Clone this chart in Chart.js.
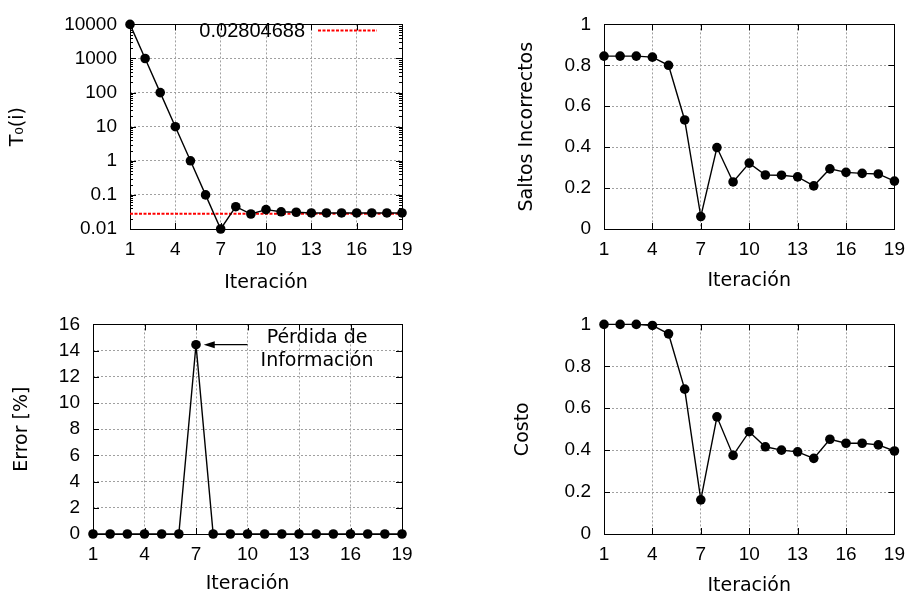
<!DOCTYPE html>
<html>
<head>
<meta charset="utf-8">
<script src="https://cdn.jsdelivr.net/npm/chart.js@4.4.1/dist/chart.umd.min.js"></script>
<style>
    html, body { margin: 0; padding: 0; background: #fff; overflow: hidden; }
    #wrap { position: relative; width: 914px; height: 599px; }
    #wrap canvas { position: absolute; }
</style>
</head>
<body>
<div id="wrap">
    <canvas id="tempChart" width="457" height="300" style="left:0;top:0"></canvas>
    <canvas id="saltosChart" width="457" height="300" style="left:457px;top:0"></canvas>
    <canvas id="errorChart" width="457" height="299" style="left:0;top:300px"></canvas>
    <canvas id="costoChart" width="457" height="299" style="left:457px;top:300px"></canvas>
</div>
<script>
// values
const iteraciones = [1, 2, 3, 4, 5, 6, 7, 8, 9, 10, 11, 12, 13, 14, 15, 16, 17, 18, 19];
const temperatura = [10000, 1000, 100, 10, 1, 0.1, 0.01, 0.045, 0.0275, 0.037, 0.032, 0.031, 0.0295, 0.0295, 0.0295, 0.0295, 0.0295, 0.0295, 0.0295];
const umbral = 0.02804688;
const saltos = [0.845, 0.845, 0.845, 0.84, 0.80, 0.533, 0.061, 0.398, 0.23, 0.322, 0.264, 0.263, 0.255, 0.211, 0.294, 0.277, 0.272, 0.269, 0.234];
const errorPct = [0, 0, 0, 0, 0, 0, 14.45, 0, 0, 0, 0, 0, 0, 0, 0, 0, 0, 0, 0];
const costo = [1, 1, 1, 0.995, 0.955, 0.691, 0.163, 0.559, 0.375, 0.488, 0.416, 0.40, 0.392, 0.361, 0.452, 0.433, 0.433, 0.425, 0.396];

const xTicks = [1, 4, 7, 10, 13, 16, 19];
const logTicks = [0.01, 0.1, 1, 10, 100, 1000, 10000];
const unitTicks = [0, 0.2, 0.4, 0.6, 0.8, 1];
const errorTicks = [0, 2, 4, 6, 8, 10, 12, 14, 16];

const tickFont = { family: "'Liberation Sans', Arial, sans-serif", size: 19 };
const titleFont = { family: "'DejaVu Sans', sans-serif", size: 19 };

const pts = (ys) => iteraciones.map((x, i) => ({ x: x, y: ys[i] }));

// border, inward tick marks on every side, like gnuplot
const gnuplotFrame = {
    id: 'gnuplotFrame',
    beforeDatasetsDraw(chart) {
        const { ctx, chartArea: a, scales } = chart;
        const sx = scales.x, sy = scales.y;
        ctx.save();
        ctx.strokeStyle = '#000';
        ctx.lineWidth = 1;
        ctx.beginPath();
        sx.ticks.forEach(t => {
            const px = Math.round(sx.getPixelForValue(t.value)) + 0.5;
            ctx.moveTo(px, a.bottom); ctx.lineTo(px, a.bottom - 6);
            ctx.moveTo(px, a.top); ctx.lineTo(px, a.top + 6);
        });
        sy.ticks.forEach(t => {
            const py = Math.round(sy.getPixelForValue(t.value)) + 0.5;
            ctx.moveTo(a.left, py); ctx.lineTo(a.left + 6, py);
            ctx.moveTo(a.right, py); ctx.lineTo(a.right - 6, py);
        });
        if (sy.type === 'logarithmic') {
            for (let d = 0; d < logTicks.length - 1; d++) {
                for (let m = 2; m <= 9; m++) {
                    const py = Math.round(sy.getPixelForValue(logTicks[d] * m)) + 0.5;
                    ctx.moveTo(a.left, py); ctx.lineTo(a.left + 3, py);
                    ctx.moveTo(a.right, py); ctx.lineTo(a.right - 3, py);
                }
            }
        }
        ctx.stroke();
        ctx.strokeRect(Math.round(a.left) + 0.5, Math.round(a.top) + 0.5, Math.round(a.width), Math.round(a.height));
        ctx.restore();
    }
};

function makeChart(id, cfg) {
    const canvas = document.getElementById(id);
    const datasets = [{
        label: cfg.label,
        data: pts(cfg.values),
        borderColor: '#000',
        backgroundColor: '#000',
        borderWidth: 1.4,
        pointRadius: 4.8,
        pointBorderWidth: 0,
        tension: 0,
        clip: false
    }].concat(cfg.extra || []);

    return new Chart(canvas.getContext('2d'), {
        type: 'line',
        data: { datasets: datasets },
        plugins: [gnuplotFrame].concat(cfg.plugins || []),
        options: {
            responsive: false,
            animation: false,
            events: [],
            layout: { padding: { left: 0, top: cfg.box.top, right: canvas.width - cfg.box.right, bottom: 0 } },
            plugins: { legend: { display: false }, tooltip: { enabled: false } },
            scales: {
                x: {
                    type: 'linear',
                    min: 1,
                    max: 19,
                    afterBuildTicks: s => { s.ticks = xTicks.map(v => ({ value: v })); },
                    afterFit: s => { s.height = canvas.height - cfg.box.bottom; },
                    grid: { color: '#a0a0a0', lineWidth: 1, drawTicks: false },
                    border: { display: false, dash: [2, 2] },
                    ticks: { color: '#000', font: tickFont, padding: 9, autoSkip: false, maxRotation: 0 },
                    title: { display: true, text: 'Iteración', color: '#000', font: titleFont, padding: { top: 0, bottom: cfg.xTitlePad } }
                },
                y: {
                    type: cfg.log ? 'logarithmic' : 'linear',
                    min: cfg.yTicks[0],
                    max: cfg.yTicks[cfg.yTicks.length - 1],
                    afterBuildTicks: s => { s.ticks = cfg.yTicks.map(v => ({ value: v })); },
                    afterFit: s => { s.width = cfg.box.left; },
                    grid: { color: '#a0a0a0', lineWidth: 1, drawTicks: false },
                    border: { display: false, dash: [2, 2] },
                    ticks: { color: '#000', font: tickFont, padding: 13, autoSkip: false, callback: v => String(v) },
                    title: { display: true, text: cfg.yTitle, color: '#000', font: titleFont, padding: { top: cfg.yTitlePad, bottom: 0 } }
                }
            }
        }
    });
}

// gnuplot-style key: text, then a sample of the line
const thresholdKey = {
    id: 'thresholdKey',
    afterDatasetsDraw(chart) {
        const ds = chart.data.datasets[1];
        const ctx = chart.ctx;
        ctx.save();
        ctx.font = '20px ' + tickFont.family;
        ctx.fillStyle = '#000';
        ctx.textAlign = 'right';
        ctx.textBaseline = 'middle';
        ctx.fillText(ds.label, 305, 31);
        ctx.strokeStyle = ds.borderColor;
        ctx.lineWidth = ds.borderWidth;
        ctx.setLineDash(ds.borderDash);
        ctx.beginPath();
        ctx.moveTo(318, 30.5);
        ctx.lineTo(377, 30.5);
        ctx.stroke();
        ctx.restore();
    }
};

// arrow + note pointing at the peak of the error curve
const notaFrom = { x: 10, y: 14.45 };
const notaTo = { x: 7.45, y: 14.45 };
const notaText = { x: 14.05, y: 14.05, lines: ['Pérdida de', 'Información'] };
const errorNote = {
    id: 'errorNote',
    afterDatasetsDraw(chart) {
        const { ctx, scales } = chart;
        const x0 = scales.x.getPixelForValue(notaFrom.x), y0 = scales.y.getPixelForValue(notaFrom.y);
        const x1 = scales.x.getPixelForValue(notaTo.x), y1 = scales.y.getPixelForValue(notaTo.y);
        ctx.save();
        ctx.strokeStyle = '#000';
        ctx.fillStyle = '#000';
        ctx.lineWidth = 1.3;
        ctx.beginPath();
        ctx.moveTo(x0, y0); ctx.lineTo(x1 + 6, y1);
        ctx.stroke();
        ctx.beginPath();
        ctx.moveTo(x1, y1); ctx.lineTo(x1 + 11, y1 - 3.5); ctx.lineTo(x1 + 11, y1 + 3.5); ctx.closePath();
        ctx.fill();
        ctx.font = titleFont.size + 'px ' + titleFont.family;
        ctx.textAlign = 'center';
        ctx.textBaseline = 'middle';
        const cx = scales.x.getPixelForValue(notaText.x), cy = scales.y.getPixelForValue(notaText.y);
        ctx.fillText(notaText.lines[0], cx, cy - 11.5);
        ctx.fillText(notaText.lines[1], cx, cy + 11.5);
        ctx.restore();
    }
};

makeChart('tempChart', {
    label: 'T0',
    values: temperatura,
    log: true,
    yTicks: logTicks,
    yTitle: 'T₀(i)',
    box: { left: 130, top: 16, right: 402, bottom: 229 },
    yTitlePad: 6.5,
    xTitlePad: 6,
    extra: [{
        label: String(umbral),
        data: [{ x: 1, y: umbral }, { x: 19, y: umbral }],
        borderColor: '#ff0000',
        borderWidth: 2,
        borderDash: [3, 1.5],
        pointRadius: 0
    }],
    plugins: [thresholdKey]
});

makeChart('saltosChart', {
    label: 'Saltos Incorrectos',
    values: saltos,
    yTicks: unitTicks,
    yTitle: 'Saltos Incorrectos',
    box: { left: 147, top: 16, right: 443, bottom: 229 },
    yTitlePad: 58.5,
    xTitlePad: 7.5
});

makeChart('errorChart', {
    label: 'Error',
    values: errorPct,
    yTicks: errorTicks,
    yTitle: 'Error [%]',
    box: { left: 93, top: 22, right: 402, bottom: 234 },
    yTitlePad: 10.3,
    xTitlePad: 3.5,
    plugins: [errorNote]
});

makeChart('costoChart', {
    label: 'Costo',
    values: costo,
    yTicks: unitTicks,
    yTitle: 'Costo',
    box: { left: 147, top: 22, right: 443, bottom: 234 },
    yTitlePad: 54.4,
    xTitlePad: 2
});
</script>
</body>
</html>
